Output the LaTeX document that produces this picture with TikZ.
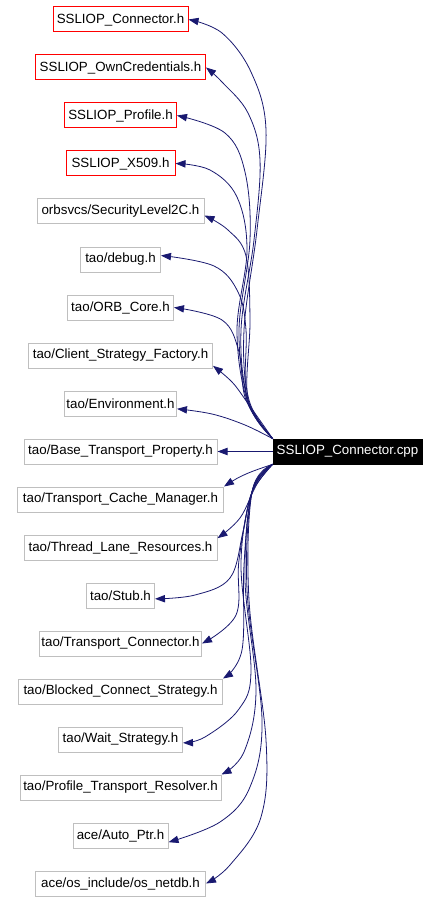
\documentclass[tikz,border=0pt]{standalone}
\usepackage{fontspec}
\setmainfont{Liberation Sans}
\usepackage{xcolor}
\usetikzlibrary{arrows.meta}
\definecolor{edgeblue}{HTML}{191970}
\definecolor{boxgray}{HTML}{BFBFBF}

\begin{document}
\begin{tikzpicture}[x=0.75pt, y=-0.75pt, font=\fontsize{10}{12}\selectfont,
    hdr/.style={draw=boxgray, line width=0.75pt, inner sep=0pt, minimum height=18.75pt},
    sslhdr/.style={hdr, draw=red},
    srcfile/.style={draw=black, fill=black, text=white, inner sep=0pt, minimum height=18.75pt},
    edge/.style={draw=edgeblue, line width=0.6pt, -{Triangle[length=7.5pt,width=5.5pt]}},
    fanline/.style={smooth, tension=0.6}]
  \useasboundingbox (0,0) rectangle (440,902);
  % included headers, one column
  \node[sslhdr, minimum width=101.25pt] (sslconn) at (120.5,19.5) {SSLIOP\_Connector.h};
  \node[sslhdr, minimum width=127.5pt] (sslcred) at (120.5,67.5) {SSLIOP\_OwnCredentials.h};
  \node[sslhdr, minimum width=84pt] (sslprof) at (120.5,115.5) {SSLIOP\_Profile.h};
  \node[sslhdr, minimum width=81.75pt] (sslx509) at (120.5,163.5) {SSLIOP\_X509.h};
  \node[hdr, minimum width=125.25pt] (seclevel) at (120.5,211.5) {orbsvcs/SecurityLevel2C.h};
  \node[hdr, minimum width=60pt] (debug) at (120.5,259.5) {tao/debug.h};
  \node[hdr, minimum width=79.5pt] (orbcore) at (120.5,307.5) {tao/ORB\_Core.h};
  \node[hdr, minimum width=138pt] (clifact) at (120.5,355.5) {tao/Client\_Strategy\_Factory.h};
  \node[hdr, minimum width=84pt] (environ) at (120.5,403.5) {tao/Environment.h};
  \node[hdr, minimum width=144.75pt] (baseprop) at (120.5,451.5) {tao/Base\_Transport\_Property.h};
  \node[hdr, minimum width=154.5pt] (cachemgr) at (120.5,499.5) {tao/Transport\_Cache\_Manager.h};
  \node[hdr, minimum width=144.75pt] (laneres) at (120.5,547.5) {tao/Thread\_Lane\_Resources.h};
  \node[hdr, minimum width=51pt] (stub) at (120.5,595.5) {tao/Stub.h};
  \node[hdr, minimum width=121.5pt] (transconn) at (120.5,643.5) {tao/Transport\_Connector.h};
  \node[hdr, minimum width=153pt] (blocked) at (120.5,691.5) {tao/Blocked\_Connect\_Strategy.h};
  \node[hdr, minimum width=93pt] (waitstrat) at (120.5,739.5) {tao/Wait\_Strategy.h};
  \node[hdr, minimum width=150.75pt] (resolver) at (120.5,787.5) {tao/Profile\_Transport\_Resolver.h};
  \node[hdr, minimum width=71.25pt] (autoptr) at (120.5,835.5) {ace/Auto\_Ptr.h};
  \node[hdr, minimum width=127.5pt] (netdb) at (120.5,883.5) {ace/os\_include/os\_netdb.h};
  % the source file itself
  \node[srcfile, minimum width=111.75pt] (main) at (347.5,451.5) {SSLIOP\_Connector.cpp};
  % upper fan, leaves the top left corner
  \draw[edge] plot[fanline] coordinates {(main.north west) (249,400) (244,330) (257,230) (266,130) (251,72) (222,33) (sslconn.east)};
  \draw[edge] plot[fanline] coordinates {(main.north west) (248,400) (241,330) (254,240) (260,160) (248,113) (222,82) (sslcred.east)};
  \draw[edge] plot[fanline] coordinates {(main.north west) (248,400) (239,330) (250,240) (245,172) (225,133) (sslprof.east)};
  \draw[edge] plot[fanline] coordinates {(main.north west) (247,400) (237,330) (247,250) (237,197) (210,170) (sslx509.east)};
  \draw[edge] plot[fanline] coordinates {(main.north west) (248,400) (250,320) (246,256) (228,230) ([yshift=-3pt]seclevel.east)};
  \draw[edge] plot[fanline] coordinates {(main.north west) (247,400) (246,330) (238,292) (214,266) ([yshift=3pt]debug.east)};
  \draw[edge] plot[fanline] coordinates {(main.north west) (246,400) (239,352) (222,320) (orbcore.east)};
  \draw[edge] plot[fanline] coordinates {(main.north west) (247,402) (232,382) ([yshift=2pt]clifact.south east)};
  \draw[edge] plot[fanline] coordinates {(main.north west) (245,425) (212,414) ([yshift=-4pt]environ.east)};
  \draw[edge] (main.west) -- (baseprop.east);
  % lower fan, leaves the bottom left corner
  \draw[edge] (main.south west) .. controls (262,468) and (245,473) .. (cachemgr.north east);
  \draw[edge] plot[fanline] coordinates {(main.south west) (257,484) (240,518) ([yshift=7pt]laneres.east)};
  \draw[edge] plot[fanline] coordinates {(main.south west) (252,492) (243,532) (230,578) (195,595) ([yshift=-2.5pt]stub.east)};
  \draw[edge] plot[fanline] coordinates {(main.south west) (252,492) (239,560) (236,615) (transconn.east)};
  \draw[edge] plot[fanline] coordinates {(main.south west) (252,492) (244,565) (242,650) (blocked.north east)};
  \draw[edge] plot[fanline] coordinates {(main.south west) (252,492) (241,565) (251,670) (239,709) (205,737) ([yshift=-2.5pt]waitstrat.east)};
  \draw[edge] plot[fanline] coordinates {(main.south west) (252,492) (245,580) (256,690) (244,752) (resolver.north east)};
  \draw[edge] plot[fanline] coordinates {(main.south west) (252,492) (247,590) (262,720) (250,787) (220,822) ([yshift=-5pt]autoptr.east)};
  \draw[edge] plot[fanline] coordinates {(main.south west) (252,492) (249,600) (266,740) (261,817) (230,865) (netdb.east)};
\end{tikzpicture}
\end{document}
